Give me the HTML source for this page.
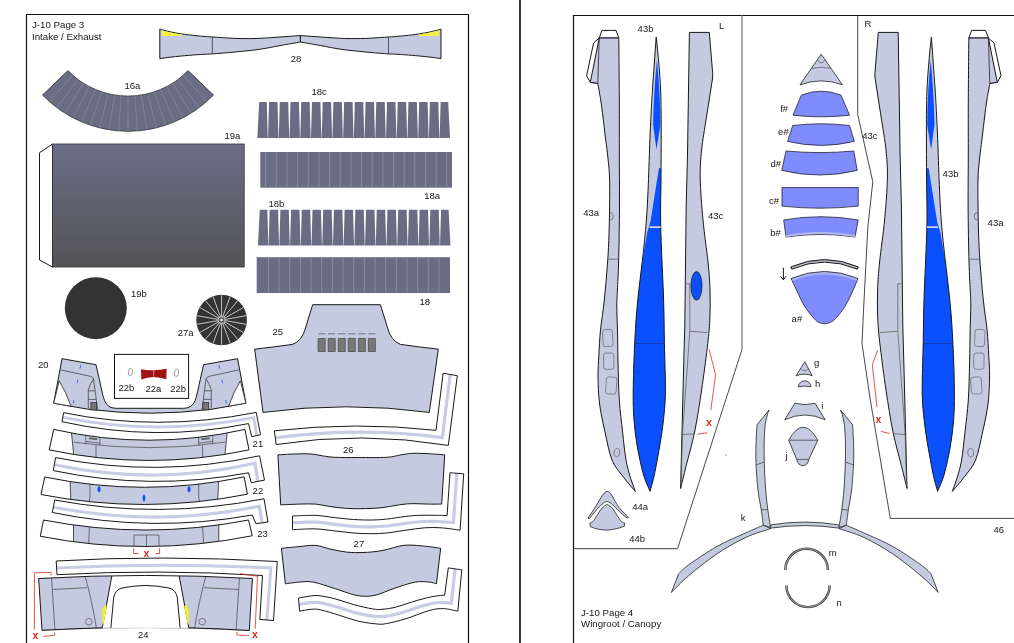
<!DOCTYPE html>
<html><head><meta charset="utf-8"><title>J-10 paper model pages 3-4</title>
<style>html,body{margin:0;padding:0;background:#fff;overflow:hidden}svg{display:block;will-change:transform}</style></head>
<body>
<svg width="1014" height="643" viewBox="0 0 1014 643" font-family="'Liberation Sans', Arial, sans-serif">
<rect width="1014" height="643" fill="#fff"/>
<path d="M26.5 650V14.5H468.5V650" fill="none" stroke="#111" stroke-width="1.2"/>
<path d="M520 0V643" stroke="#222" stroke-width="1.8"/>
<path d="M573.5 650V15.5H1020" fill="none" stroke="#111" stroke-width="1.2"/>
<text x="32" y="28" font-size="9.7" fill="#161616" >J-10 Page 3</text>
<text x="32" y="40.2" font-size="9.7" fill="#161616" >Intake / Exhaust</text>
<g><path d="M159.8 29.1C161.5 29.6 166.4 31.0 170.0 31.8C173.6 32.6 177.2 33.2 181.5 33.9C185.8 34.5 190.9 35.2 196.0 35.7C201.1 36.2 209.6 36.8 212.3 37.0L212.3 37.0C216.1 37.2 227.9 38.1 235.0 38.4C242.1 38.6 247.5 38.7 255.0 38.5C262.5 38.3 272.4 37.5 280.0 37.0C287.6 36.5 297.0 35.8 300.4 35.5L300.4 42.0C297.0 42.6 286.7 44.4 280.0 45.6C273.3 46.8 267.9 48.1 260.4 49.2C252.9 50.3 243.0 51.2 235.0 52.0C227.0 52.8 216.1 53.6 212.3 53.9L212.3 53.9C209.6 54.0 201.1 54.4 196.0 54.8C190.9 55.1 185.8 55.6 181.5 56.0C177.2 56.4 173.6 56.8 170.0 57.2C166.4 57.6 161.5 58.4 159.8 58.6Z" fill="#c4cae0" stroke="#181818" stroke-width="1"/><path d="M212.3 37V53.9" stroke="#333" stroke-width="0.8"/><path d="M161.2 30.3 Q172 33 182.4 34.6 L180.6 35.9 L162 35.9Z" fill="#f5f046"/></g><g transform="translate(600.8,0) scale(-1,1)"><path d="M159.8 29.1C161.5 29.6 166.4 31.0 170.0 31.8C173.6 32.6 177.2 33.2 181.5 33.9C185.8 34.5 190.9 35.2 196.0 35.7C201.1 36.2 209.6 36.8 212.3 37.0L212.3 37.0C216.1 37.2 227.9 38.1 235.0 38.4C242.1 38.6 247.5 38.7 255.0 38.5C262.5 38.3 272.4 37.5 280.0 37.0C287.6 36.5 297.0 35.8 300.4 35.5L300.4 42.0C297.0 42.6 286.7 44.4 280.0 45.6C273.3 46.8 267.9 48.1 260.4 49.2C252.9 50.3 243.0 51.2 235.0 52.0C227.0 52.8 216.1 53.6 212.3 53.9L212.3 53.9C209.6 54.0 201.1 54.4 196.0 54.8C190.9 55.1 185.8 55.6 181.5 56.0C177.2 56.4 173.6 56.8 170.0 57.2C166.4 57.6 161.5 58.4 159.8 58.6Z" fill="#c4cae0" stroke="#181818" stroke-width="1"/><path d="M212.3 37V53.9" stroke="#333" stroke-width="0.8"/><path d="M161.2 30.3 Q172 33 182.4 34.6 L180.6 35.9 L162 35.9Z" fill="#f5f046"/></g>
<text x="290.7" y="62" font-size="9.5" fill="#161616" >28</text>
<path d="M67.9 70.6 A83.6 83.6 0 0 0 188.1 70.6 L213.5 95.0 A118.8 118.8 0 0 1 42.5 95.0Z" fill="#6a6c84" stroke="#333" stroke-width="0.8"/>
<path d="M72.7 75.2L49.4 101.6M77.9 79.4L56.8 107.6M83.5 83.2L64.7 113.0M89.3 86.6L73.0 117.8M95.3 89.5L81.6 121.9M101.6 91.8L90.5 125.2M108.1 93.7L99.7 127.9M114.6 95.0L109.0 129.8M121.3 95.8L118.5 130.9M128.0 96.1L128.0 131.3M134.7 95.8L137.5 130.9M141.4 95.0L147.0 129.8M147.9 93.7L156.3 127.9M154.4 91.8L165.5 125.2M160.7 89.5L174.4 121.9M166.7 86.6L183.0 117.8M172.5 83.2L191.3 113.0M178.1 79.4L199.2 107.6M183.3 75.2L206.6 101.6" stroke="#9093a6" stroke-width="0.55"/>
<text x="124.5" y="89" font-size="9.5" fill="#161616" >16a</text>
<defs><linearGradient id="g19" x1="0" y1="0" x2="0" y2="1"><stop offset="0" stop-color="#6b6d86"/><stop offset="1" stop-color="#545456"/></linearGradient></defs>
<path d="M52.5 144 L39.5 152.8 V260 L52.5 267Z" fill="#fff" stroke="#181818" stroke-width="1"/>
<rect x="52.5" y="144" width="191.7" height="123" fill="url(#g19)" stroke="#333" stroke-width="0.8"/>
<text x="224.5" y="138.8" font-size="9.5" fill="#161616" >19a</text>
<path d="M257.35 138L259.20 102L266.77 102L267.77 138ZM268.07 138L269.07 102L277.49 102L278.49 138ZM278.79 138L279.79 102L288.22 102L289.22 138ZM289.52 138L290.52 102L298.94 102L299.94 138ZM300.24 138L301.24 102L309.66 102L310.66 138ZM310.96 138L311.96 102L320.38 102L321.38 138ZM321.68 138L322.68 102L331.11 102L332.11 138ZM332.41 138L333.41 102L341.83 102L342.83 138ZM343.13 138L344.13 102L352.55 102L353.55 138ZM353.85 138L354.85 102L363.27 102L364.27 138ZM364.57 138L365.57 102L373.99 102L374.99 138ZM375.29 138L376.29 102L384.72 102L385.72 138ZM386.02 138L387.02 102L395.44 102L396.44 138ZM396.74 138L397.74 102L406.16 102L407.16 138ZM407.46 138L408.46 102L416.88 102L417.88 138ZM418.18 138L419.18 102L427.61 102L428.61 138ZM428.91 138L429.91 102L438.33 102L439.33 138ZM439.63 138L440.63 102L448.20 102L450.05 138Z" fill="#6a6c84"/>
<path d="M257.95 245.4L259.80 209.7L267.36 209.7L268.36 245.4ZM268.66 245.4L269.66 209.7L278.07 209.7L279.07 245.4ZM279.37 245.4L280.37 209.7L288.78 209.7L289.78 245.4ZM290.08 245.4L291.08 209.7L299.49 209.7L300.49 245.4ZM300.79 245.4L301.79 209.7L310.21 209.7L311.21 245.4ZM311.51 245.4L312.51 209.7L320.92 209.7L321.92 245.4ZM322.22 245.4L323.22 209.7L331.63 209.7L332.63 245.4ZM332.93 245.4L333.93 209.7L342.34 209.7L343.34 245.4ZM343.64 245.4L344.64 209.7L353.05 209.7L354.05 245.4ZM354.35 245.4L355.35 209.7L363.76 209.7L364.76 245.4ZM365.06 245.4L366.06 209.7L374.47 209.7L375.47 245.4ZM375.77 245.4L376.77 209.7L385.18 209.7L386.18 245.4ZM386.48 245.4L387.48 209.7L395.89 209.7L396.89 245.4ZM397.19 245.4L398.19 209.7L406.61 209.7L407.61 245.4ZM407.91 245.4L408.91 209.7L417.32 209.7L418.32 245.4ZM418.62 245.4L419.62 209.7L428.03 209.7L429.03 245.4ZM429.33 245.4L430.33 209.7L438.74 209.7L439.74 245.4ZM440.04 245.4L441.04 209.7L448.60 209.7L450.45 245.4Z" fill="#6a6c84"/>
<text x="311.5" y="95" font-size="9.5" fill="#161616" >18c</text>
<text x="268.4" y="207" font-size="9.5" fill="#161616" >18b</text>
<rect x="260.3" y="152" width="191.7" height="35.7" fill="#6a6c84"/>
<path d="M265.60 152V187.7M276.26 152V187.7M286.92 152V187.7M297.58 152V187.7M308.24 152V187.7M318.90 152V187.7M329.56 152V187.7M340.22 152V187.7M350.88 152V187.7M361.54 152V187.7M372.20 152V187.7M382.86 152V187.7M393.52 152V187.7M404.18 152V187.7M414.84 152V187.7M425.50 152V187.7M436.16 152V187.7M446.82 152V187.7" stroke="#9c9eac" stroke-width="0.6"/>
<rect x="256.7" y="257.2" width="193.3" height="35.8" fill="#6a6c84"/>
<path d="M268.40 257.2V293M279.06 257.2V293M289.72 257.2V293M300.38 257.2V293M311.04 257.2V293M321.70 257.2V293M332.36 257.2V293M343.02 257.2V293M353.68 257.2V293M364.34 257.2V293M375.00 257.2V293M385.66 257.2V293M396.32 257.2V293M406.98 257.2V293M417.64 257.2V293M428.30 257.2V293M438.96 257.2V293" stroke="#9c9eac" stroke-width="0.6"/>
<text x="424.2" y="199" font-size="9.5" fill="#161616" >18a</text>
<text x="419.5" y="305" font-size="9.5" fill="#161616" >18</text>
<circle cx="95.8" cy="308.2" r="31" fill="#333"/>
<text x="131" y="297" font-size="9.5" fill="#161616" >19b</text>
<circle cx="221.6" cy="320" r="25.3" fill="#333"/>
<path d="M221.6 323.0L221.6 344.8M220.6 322.8L213.1 343.3M219.7 322.3L205.7 339.0M219.0 321.5L200.1 332.4M218.6 320.5L197.2 324.3M218.6 319.5L197.2 315.7M219.0 318.5L200.1 307.6M219.7 317.7L205.7 301.0M220.6 317.2L213.1 296.7M221.6 317.0L221.6 295.2M222.6 317.2L230.1 296.7M223.5 317.7L237.5 301.0M224.2 318.5L243.1 307.6M224.6 319.5L246.0 315.7M224.6 320.5L246.0 324.3M224.2 321.5L243.1 332.4M223.5 322.3L237.5 339.0M222.6 322.8L230.1 343.3" stroke="#d4d4d4" stroke-width="0.9"/>
<circle cx="221.6" cy="320" r="3.6" fill="#555" stroke="#d4d4d4" stroke-width="0.9"/><circle cx="221.6" cy="320" r="1.4" fill="#ddd"/>
<text x="177.7" y="336" font-size="9.5" fill="#161616" >27a</text>
<text x="38" y="367.5" font-size="9.5" fill="#161616" >20</text>
<path d="M62 358.7 L96 364.7 L99.9 382 Q102.5 395 104.5 400.5 Q107.5 408.3 116 408.3 L183.6 408.3 Q192.1 408.3 195.1 400.5 Q197.1 395 199.7 382 L203.6 364.7 L237.6 358.7 L245.9 403.2 L211.9 409.2 Q180 413.2 149.8 413.2 Q119.6 413.2 87.7 409.2 L53.7 403.2Z" fill="#c4cae0" stroke="#181818" stroke-width="1"/>
<g><path d="M53.7 403.2 L59.2 380.8 Q66 392 71 406.2Z" fill="#fff" stroke="#222" stroke-width="0.8"/><path d="M60.8 369.9 L90.3 376.3 Q93 377 93.5 378.8 L97.6 409.5 M93.5 378.8 Q90 384 88.3 389.7 V408.5 M88.3 390.8H95 M88.3 399.4H96.2" fill="none" stroke="#333" stroke-width="0.7"/><rect x="90.9" y="402.6" width="5.8" height="7.4" fill="#777" stroke="#222" stroke-width="0.7"/><path d="M80.8 365L80 368.5M77.8 379.7L77 383.2M74 400.2L73.2 403.7" stroke="#3355ee" stroke-width="0.9"/></g><g transform="translate(299.6,0) scale(-1,1)"><path d="M53.7 403.2 L59.2 380.8 Q66 392 71 406.2Z" fill="#fff" stroke="#222" stroke-width="0.8"/><path d="M60.8 369.9 L90.3 376.3 Q93 377 93.5 378.8 L97.6 409.5 M93.5 378.8 Q90 384 88.3 389.7 V408.5 M88.3 390.8H95 M88.3 399.4H96.2" fill="none" stroke="#333" stroke-width="0.7"/><rect x="90.9" y="402.6" width="5.8" height="7.4" fill="#777" stroke="#222" stroke-width="0.7"/><path d="M80.8 365L80 368.5M77.8 379.7L77 383.2M74 400.2L73.2 403.7" stroke="#3355ee" stroke-width="0.9"/></g>
<rect x="114.5" y="354.4" width="74.1" height="44" fill="#fff" stroke="#111" stroke-width="1"/>
<path d="M141 369.2 Q147 370.4 153.7 370.2 Q160 370.2 166.6 368.8 L166.4 379.3 Q160 377.2 153.7 377 Q147 377.4 141.3 379.4Z" fill="#a01210"/>
<path d="M153.7 370V377.2" stroke="#ddd" stroke-width="0.6"/>
<ellipse cx="130.4" cy="372.1" rx="2.1" ry="3.8" fill="none" stroke="#8a8f9e" stroke-width="0.8" transform="rotate(8 130.4 372.1)"/><ellipse cx="176.5" cy="372.7" rx="2.1" ry="3.8" fill="none" stroke="#8a8f9e" stroke-width="0.8" transform="rotate(8 176.5 372.7)"/>
<text x="118.5" y="391" font-size="9.5" fill="#161616" >22b</text>
<text x="145.5" y="391.5" font-size="9.5" fill="#161616" >22a</text>
<text x="170.2" y="391.5" font-size="9.5" fill="#161616" >22b</text>
<path d="M63.6 412.7 Q158 432 256.2 412.4 L260.5 434.7 L251.7 436.7 L248.5 423.6 Q155 442.5 62 421.7Z" fill="#fff"/>
<path d="M62.8 417.4 Q158 436.4 253.6 417.6 L256.9 435.7" fill="none" stroke="#c9cce5" stroke-width="3.0"/>
<path d="M63.6 412.7 Q158 432 256.2 412.4 L260.5 434.7 L251.7 436.7 L248.5 423.6 Q155 442.5 62 421.7Z" fill="none" stroke="#181818" stroke-width="1"/>
<clipPath id="cb1"><path d="M53.7 429.4 Q149.3 451 244.9 429.4 L249 449.9 Q149.3 471 49.2 449.9Z"/></clipPath>
<path d="M53.7 429.4 Q149.3 451 244.9 429.4 L249 449.9 Q149.3 471 49.2 449.9Z" fill="#fff"/>
<g clip-path="url(#cb1)"><path d="M70.6 424.4 Q73.6 450.2 75.2 476 L223.4 476 Q225 450.2 228 424.4Z" fill="#c4cae0" stroke="#222" stroke-width="0.8"/><path d="M73.6 442.2 Q149.3 453.2 225 442.2 M96 445.4V459 M202.6 445.4V459 M85.8 435V444.3 M99.9 436V445.6 M212.8 435V444.3 M198.7 436V445.6 M85.8 441.4L99.9 443.2 M212.8 441.4L198.7 443.2" fill="none" stroke="#444" stroke-width="0.7"/><path d="M89 437.2L97.3 438.3V440.2L89 439.2Z M209.6 437.2L201.3 438.3V440.2L209.6 439.2Z" fill="#666"/></g>
<path d="M53.7 429.4 Q149.3 451 244.9 429.4 L249 449.9 Q149.3 471 49.2 449.9Z" fill="none" stroke="#181818" stroke-width="1"/>
<text x="252.6" y="446.7" font-size="9.5" fill="#161616" >21</text>
<path d="M55.6 457.6 Q157 478 259.6 455.8 L264.5 480.1 L251.3 482.7 L248.5 472.8 Q151 491 53.3 470.6Z" fill="#fff"/>
<path d="M54.3 464.8 Q156 486 255 463.3 L257.8 481.4" fill="none" stroke="#c9cce5" stroke-width="3.2"/>
<path d="M55.6 457.6 Q157 478 259.6 455.8 L264.5 480.1 L251.3 482.7 L248.5 472.8 Q151 491 53.3 470.6Z" fill="none" stroke="#181818" stroke-width="1"/>
<clipPath id="cb2"><path d="M44.75 477 Q144.5 497.6 244.2 476.9 L247.4 494.2 Q144.5 514.6 41 494.5Z"/></clipPath>
<path d="M44.75 477 Q144.5 497.6 244.2 476.9 L247.4 494.2 Q144.5 514.6 41 494.5Z" fill="#fff"/>
<g clip-path="url(#cb2)"><path d="M69.8 471.9 Q70.6 495.75 71.6 519.6 L217 519.6 Q218 495.75 218.9 471.9Z" fill="#c4cae0" stroke="#222" stroke-width="0.8"/><path d="M90 482V497 L88.4 506 M198.7 482V497L200.3 506" fill="none" stroke="#444" stroke-width="0.7"/><ellipse cx="99" cy="489.3" rx="1.5" ry="3" fill="#0a50fe"/><ellipse cx="144" cy="498" rx="1.3" ry="3.6" fill="#0a50fe"/><ellipse cx="189" cy="489.3" rx="1.5" ry="3" fill="#0a50fe"/></g>
<path d="M44.75 477 Q144.5 497.6 244.2 476.9 L247.4 494.2 Q144.5 514.6 41 494.5Z" fill="none" stroke="#181818" stroke-width="1"/>
<text x="252.6" y="494" font-size="9.5" fill="#161616" >22</text>
<path d="M54.75 500 Q159 519.5 264 498.75 L268 522 L256 523.75 L252.25 515 Q152 533 52.25 512.5Z" fill="#fff"/>
<path d="M53.5 507.3 Q158 527.3 259.3 506.2 L262 522.8" fill="none" stroke="#c9cce5" stroke-width="3.2"/>
<path d="M54.75 500 Q159 519.5 264 498.75 L268 522 L256 523.75 L252.25 515 Q152 533 52.25 512.5Z" fill="none" stroke="#181818" stroke-width="1"/>
<clipPath id="cb3"><path d="M43.5 520 Q146 540 248.5 520 L252.25 535.75 Q146 557 40.25 536.25Z"/></clipPath>
<path d="M43.5 520 Q146 540 248.5 520 L252.25 535.75 Q146 557 40.25 536.25Z" fill="#fff"/>
<g clip-path="url(#cb3)"><path d="M73.5 515 Q73.5 538.5 73.5 562 L218.8 562 Q218.8 538.5 218.8 515Z" fill="#c4cae0" stroke="#222" stroke-width="0.8"/><path d="M89.75 520L88.5 550 M202.25 520L204 550 M134 535H159V548M134 535V548M146.5 535V548" fill="none" stroke="#444" stroke-width="0.7"/></g>
<path d="M43.5 520 Q146 540 248.5 520 L252.25 535.75 Q146 557 40.25 536.25Z" fill="none" stroke="#181818" stroke-width="1"/>
<text x="257.2" y="536.8" font-size="9.5" fill="#161616" >23</text>
<path d="M56.2 561 Q160 554.8 277.3 561.5 L273.5 620.5 L259.8 619.4 L262.5 575.5 Q160 569 57 574.7Z" fill="#fff"/>
<path d="M56.6 567.9 Q160 562.6 270.9 568 L266.8 619.8" fill="none" stroke="#c9cce5" stroke-width="3"/>
<path d="M56.2 561 Q160 554.8 277.3 561.5 L273.5 620.5 L259.8 619.4 L262.5 575.5 Q160 569 57 574.7Z" fill="none" stroke="#181818" stroke-width="1"/>
<path d="M133.6 548.3V553.5H138.5 M159.6 548.3V553.5H155.8" fill="none" stroke="#e02818" stroke-width="0.8"/>
<text x="143.5" y="556.7" font-size="10.5" fill="#e02818" font-weight="bold">x</text>
<clipPath id="c24"><path d="M38.65 578.5 Q145.5 572.4 252.4 578.5 L249.3 630.5 Q145.5 625 42 630.3Z"/></clipPath>
<path d="M38.65 578.5 Q145.5 572.4 252.4 578.5 L249.3 630.5 Q145.5 625 42 630.3Z" fill="#fff"/>
<g clip-path="url(#c24)"><g><path d="M30 570 L111.9 570 L112 575 L102.2 627.8 L102 640 L30 640Z" fill="#c4cae0" stroke="#181818" stroke-width="1"/><path d="M51.1 570L55.2 635 M52.7 589.5L87 587.7 M84.5 574 Q92 600 97.1 632" fill="none" stroke="#444" stroke-width="0.7"/><circle cx="88.8" cy="621.7" r="3.3" fill="none" stroke="#555" stroke-width="0.7"/></g><g transform="translate(291.0,0) scale(-1,1)"><path d="M30 570 L111.9 570 L112 575 L102.2 627.8 L102 640 L30 640Z" fill="#c4cae0" stroke="#181818" stroke-width="1"/><path d="M51.1 570L55.2 635 M52.7 589.5L87 587.7 M84.5 574 Q92 600 97.1 632" fill="none" stroke="#444" stroke-width="0.7"/><circle cx="88.8" cy="621.7" r="3.3" fill="none" stroke="#555" stroke-width="0.7"/></g></g>
<path d="M42 630.3 Q145.5 625 249.3 630.5" fill="none" stroke="#999" stroke-width="0.8"/>
<path d="M102.2 627.8 Q72 628.6 42 630.3 L38.65 578.5 Q145.5 572.4 252.4 578.5 L249.3 630.5 Q219 628.6 188.8 627.8" fill="none" stroke="#181818" stroke-width="1"/>
<path d="M110.9 627.8 L113.6 598.3 Q114.8 589.6 122 588 Q133 585.8 145.5 585.4 Q158 585.8 169 588 Q176.2 589.6 177.4 598.3 L180.1 627.8" fill="#fff" stroke="#181818" stroke-width="1"/>
<g><path d="M104.6 604.3 L106.7 606 L105.4 614 L103.4 624.5 L102.4 624.5 L102 610.5Z" fill="#f4ee3a"/></g><g transform="translate(291.0,0) scale(-1,1)"><path d="M104.6 604.3 L106.7 606 L105.4 614 L103.4 624.5 L102.4 624.5 L102 610.5Z" fill="#f4ee3a"/></g>
<path d="M51.1 575.5V572.4L34.4 572.9V629.6 M43.5 636.5L54.5 635.2V632.6" fill="none" stroke="#e02818" stroke-width="0.8"/>
<path d="M240 573.7L257.5 576.2L255.2 628.8 M236.9 631.9V635L249 635.5" fill="none" stroke="#e02818" stroke-width="0.8"/>
<text x="32.5" y="638.5" font-size="10.5" fill="#e02818" font-weight="bold">x</text>
<text x="252" y="638" font-size="10.5" fill="#e02818" font-weight="bold">x</text>
<text x="138" y="637.5" font-size="9.5" fill="#161616" >24</text>
<path d="M312.7 304.7 H380.4 L387.6 328 Q391 340.8 400.5 344.4 Q419 347 438.3 349.2 L429.3 412.4 Q388 406.8 346.5 406.8 Q305 406.8 263 412.4 L254.7 349.2 Q274 347 292.6 344.4 Q302.1 340.8 305.5 328Z" fill="#c4cae0" stroke="#181818" stroke-width="1"/>
<path d="M318.1 338.5h7.1v13h-7.1zM328.1 338.5h7.1v13h-7.1zM338.2 338.5h7.1v13h-7.1zM348.2 338.5h7.1v13h-7.1zM358.3 338.5h7.1v13h-7.1zM368.3 338.5h7.1v13h-7.1z" fill="#787878" stroke="#444" stroke-width="0.7"/><path d="M318.1 333.8h7.1M328.1 333.8h7.1M338.2 333.8h7.1M348.2 333.8h7.1M358.3 333.8h7.1M368.3 333.8h7.1" stroke="#8c8ea4" stroke-width="1.4"/>
<text x="272.4" y="335" font-size="9.5" fill="#161616" >25</text>
<path d="M274.3 430.8 Q356 421.5 436 430.3 L443.1 373.3 L457.3 375.7 L448.3 445.4 Q362 431 276.2 444.5Z" fill="#fff"/>
<path d="M275.2 437.8 Q359 426.5 442.3 437.6 L450.2 374.5" fill="none" stroke="#c9cce5" stroke-width="3.2"/>
<path d="M274.3 430.8 Q356 421.5 436 430.3 L443.1 373.3 L457.3 375.7 L448.3 445.4 Q362 431 276.2 444.5Z" fill="none" stroke="#181818" stroke-width="1"/>
<path d="M277.9 454.9C280.6 454.8 288.9 454.1 294.4 454.0C300.0 453.8 306.3 453.6 311.0 454.0C315.7 454.3 318.9 455.3 322.8 455.9C326.8 456.4 328.8 457.0 334.7 457.3C340.6 457.6 349.7 457.5 358.3 457.5C367.0 457.5 379.6 457.7 386.7 457.3C393.8 456.8 396.6 455.6 400.9 454.9C405.3 454.2 408.0 453.5 412.8 453.3C417.5 453.1 424.0 453.5 429.3 453.7C434.7 454.0 442.2 454.7 444.7 454.9L441.7 504.1C439.6 504.1 434.6 504.2 429.3 504.1C424.1 504.1 415.9 503.5 410.4 503.7C404.9 503.9 400.9 504.7 396.2 505.3C391.5 506.0 387.1 507.1 382.0 507.7C376.9 508.2 371.4 508.5 365.4 508.6C359.5 508.8 352.4 508.8 346.5 508.4C340.6 508.0 335.1 507.2 329.9 506.5C324.8 505.8 320.9 504.5 315.7 504.1C310.6 503.7 305.0 504.0 299.2 504.1C293.3 504.3 283.8 504.7 280.7 504.9Z" fill="#c4cae0" stroke="#181818" stroke-width="1"/>
<text x="343" y="452.5" font-size="9.5" fill="#161616" >26</text>
<path d="M292.5 516.0C294.8 515.9 302.0 515.6 306.3 515.5C310.5 515.4 313.4 515.1 318.1 515.5C322.8 515.9 328.8 517.0 334.7 517.6C340.6 518.3 347.3 519.1 353.6 519.5C359.9 519.9 367.0 520.1 372.5 520.0C378.1 519.9 381.2 519.6 386.7 519.1C392.3 518.5 400.2 517.1 405.7 516.4C411.2 515.8 415.1 515.5 419.9 515.3C424.6 515.1 429.5 515.2 434.1 515.3C438.6 515.3 444.9 515.5 447.1 515.5L450.0 472.7C452.3 472.9 461.4 473.6 463.7 473.8L460.1 530.2C457.0 529.8 447.1 528.2 441.2 527.8C435.3 527.4 430.5 527.4 424.6 527.8C418.7 528.2 412.0 529.3 405.7 530.2C399.4 531.0 392.7 532.4 386.7 533.0C380.8 533.6 375.7 533.7 370.2 533.7C364.7 533.7 359.5 533.5 353.6 533.0C347.7 532.5 340.6 531.6 334.7 530.9C328.8 530.2 322.8 529.3 318.1 529.0C313.4 528.7 310.5 528.9 306.3 529.0C302.0 529.1 294.8 529.6 292.5 529.7Z" fill="#fff"/>
<path d="M292.5 522.8C294.8 522.7 302.0 522.3 306.3 522.2C310.5 522.1 313.4 521.9 318.1 522.2C322.8 522.6 328.8 523.6 334.7 524.3C340.6 524.9 347.5 525.8 353.6 526.3C359.7 526.7 365.8 526.9 371.4 526.9C376.9 526.8 381.0 526.6 386.7 526.0C392.5 525.4 399.8 524.1 405.7 523.3C411.6 522.6 416.9 521.8 422.2 521.5C427.6 521.2 432.4 521.4 437.6 521.5C442.8 521.7 450.8 522.3 453.4 522.5L456.9 473.2" fill="none" stroke="#c9cce5" stroke-width="3.2"/>
<path d="M292.5 516.0C294.8 515.9 302.0 515.6 306.3 515.5C310.5 515.4 313.4 515.1 318.1 515.5C322.8 515.9 328.8 517.0 334.7 517.6C340.6 518.3 347.3 519.1 353.6 519.5C359.9 519.9 367.0 520.1 372.5 520.0C378.1 519.9 381.2 519.6 386.7 519.1C392.3 518.5 400.2 517.1 405.7 516.4C411.2 515.8 415.1 515.5 419.9 515.3C424.6 515.1 429.5 515.2 434.1 515.3C438.6 515.3 444.9 515.5 447.1 515.5L450.0 472.7C452.3 472.9 461.4 473.6 463.7 473.8L460.1 530.2C457.0 529.8 447.1 528.2 441.2 527.8C435.3 527.4 430.5 527.4 424.6 527.8C418.7 528.2 412.0 529.3 405.7 530.2C399.4 531.0 392.7 532.4 386.7 533.0C380.8 533.6 375.7 533.7 370.2 533.7C364.7 533.7 359.5 533.5 353.6 533.0C347.7 532.5 340.6 531.6 334.7 530.9C328.8 530.2 322.8 529.3 318.1 529.0C313.4 528.7 310.5 528.9 306.3 529.0C302.0 529.1 294.8 529.6 292.5 529.7Z" fill="none" stroke="#181818" stroke-width="1"/>
<path d="M281.4 548.3C284.4 548.0 293.5 547.1 299.2 546.6C304.9 546.1 310.6 545.0 315.7 545.4C320.9 545.8 324.8 547.9 329.9 549.0C335.1 550.1 341.0 551.5 346.5 552.1C352.0 552.7 357.2 552.8 363.1 552.5C369.0 552.3 375.3 551.8 382.0 550.6C388.7 549.5 396.6 546.2 403.3 545.4C410.0 544.6 416.0 545.4 422.2 545.9C428.5 546.4 437.6 547.9 440.7 548.3L436.4 583.8C435.3 583.5 432.9 582.4 429.3 582.1C425.8 581.8 421.1 581.1 415.1 582.1C409.2 583.2 400.2 586.4 393.8 588.5C387.5 590.6 382.0 593.4 377.3 594.7C372.5 596.0 369.4 596.3 365.4 596.3C361.5 596.3 358.7 596.0 353.6 594.7C348.5 593.4 341.4 590.6 334.7 588.5C328.0 586.4 319.3 583.2 313.4 582.1C307.5 581.1 303.8 581.8 299.2 582.1C294.5 582.4 287.7 583.5 285.4 583.8Z" fill="#c4cae0" stroke="#181818" stroke-width="1"/>
<text x="353.6" y="546.6" font-size="9.5" fill="#161616" >27</text>
<path d="M298.5 598.0C300.2 597.7 305.4 596.7 308.6 596.3C311.9 595.9 313.8 595.2 318.1 595.6C322.4 596.0 328.8 597.2 334.7 598.7C340.6 600.2 347.3 602.9 353.6 604.6C359.9 606.3 367.8 608.1 372.5 608.9C377.3 609.7 378.1 609.7 382.0 609.3C386.0 609.0 390.3 608.5 396.2 607.0C402.1 605.5 411.2 602.1 417.5 600.3C423.8 598.6 429.5 597.2 434.1 596.3C438.6 595.5 443.0 595.3 444.7 595.1L448.3 567.9C450.6 568.2 459.6 569.5 461.8 569.8L457.8 611.2C455.4 610.8 448.3 608.8 443.6 608.6C438.8 608.5 435.7 608.8 429.3 610.5C423.0 612.2 412.8 616.6 405.7 618.8C398.6 621.0 391.5 622.7 386.7 623.5C382.0 624.4 382.0 624.4 377.3 624.0C372.5 623.6 364.7 622.6 358.3 621.2C352.0 619.7 345.7 617.2 339.4 615.3C333.1 613.4 325.2 610.8 320.5 609.8C315.7 608.8 314.5 609.1 311.0 609.3C307.5 609.6 301.5 610.9 299.6 611.2Z" fill="#fff"/>
<path d="M299.2 604.6C300.9 604.3 306.5 603.0 309.8 602.7C313.2 602.4 314.8 602.0 319.3 602.7C323.8 603.4 330.9 605.3 337.0 607.0C343.2 608.7 349.7 611.3 356.0 612.9C362.3 614.5 370.2 615.9 374.9 616.4C379.6 617.0 380.0 617.0 384.4 616.4C388.7 615.9 394.4 614.7 400.9 612.9C407.5 611.1 417.1 607.3 423.4 605.6C429.7 603.8 434.2 602.9 438.8 602.5C443.5 602.1 449.3 603.1 451.4 603.2L455.1 568.9" fill="none" stroke="#c9cce5" stroke-width="3.2"/>
<path d="M298.5 598.0C300.2 597.7 305.4 596.7 308.6 596.3C311.9 595.9 313.8 595.2 318.1 595.6C322.4 596.0 328.8 597.2 334.7 598.7C340.6 600.2 347.3 602.9 353.6 604.6C359.9 606.3 367.8 608.1 372.5 608.9C377.3 609.7 378.1 609.7 382.0 609.3C386.0 609.0 390.3 608.5 396.2 607.0C402.1 605.5 411.2 602.1 417.5 600.3C423.8 598.6 429.5 597.2 434.1 596.3C438.6 595.5 443.0 595.3 444.7 595.1L448.3 567.9C450.6 568.2 459.6 569.5 461.8 569.8L457.8 611.2C455.4 610.8 448.3 608.8 443.6 608.6C438.8 608.5 435.7 608.8 429.3 610.5C423.0 612.2 412.8 616.6 405.7 618.8C398.6 621.0 391.5 622.7 386.7 623.5C382.0 624.4 382.0 624.4 377.3 624.0C372.5 623.6 364.7 622.6 358.3 621.2C352.0 619.7 345.7 617.2 339.4 615.3C333.1 613.4 325.2 610.8 320.5 609.8C315.7 608.8 314.5 609.1 311.0 609.3C307.5 609.6 301.5 610.9 299.6 611.2Z" fill="none" stroke="#181818" stroke-width="1"/>
<path d="M742 15.5V349.5" stroke="#858585" stroke-width="1.4"/><path d="M742 349.5L677.6 548.6" stroke="#333" stroke-width="0.9"/><path d="M677.6 548.6H573.5" stroke="#666" stroke-width="1.1"/>
<path d="M857.7 15.5V114.4L872.8 181.8L867.8 227.3L863.5 310.8L862 343.6L870.4 400.5L890.3 518.4H1020" fill="none" stroke="#333" stroke-width="0.9"/>
<g id="Lgrp"><path d="M602 30.4H616L618.8 38H599.2Z" fill="#fff" stroke="#181818" stroke-width="1"/><path d="M599.2 38L593.6 43L586.6 75.8L590.3 82.3L597.8 83.4Z" fill="#fff" stroke="#181818" stroke-width="1"/><path d="M599.2 38L618.8 38C618.9 48.3 619.2 81.3 619.3 100.0C619.4 118.7 619.3 132.3 619.3 150.0C619.3 167.7 619.6 187.3 619.5 206.0C619.4 224.7 619.0 248.0 618.6 262.0C618.2 276.0 617.7 282.8 617.4 290.0C617.1 297.2 616.8 298.2 616.8 305.0C616.8 311.8 617.3 321.5 617.5 331.0C617.7 340.5 617.7 350.5 618.0 362.0C618.3 373.5 618.5 388.3 619.3 400.0C620.1 411.7 621.5 422.0 622.6 432.0C623.7 442.0 624.7 452.5 626.0 460.0C627.3 467.5 628.6 471.6 630.2 476.8C631.8 482.1 634.5 489.1 635.4 491.5C633.4 489.1 627.1 482.1 623.2 476.8C619.3 471.6 615.0 467.5 612.0 460.0C609.0 452.5 607.1 441.3 605.0 432.0C602.9 422.7 600.8 413.3 599.6 404.0C598.4 394.7 598.1 384.2 598.0 376.0C597.9 367.8 598.5 362.5 598.9 355.0C599.3 347.5 599.5 340.2 600.4 331.0C601.3 321.8 603.1 311.5 604.3 300.0C605.5 288.5 606.8 273.0 607.6 262.0C608.4 251.0 608.7 243.3 609.0 234.0C609.3 224.7 609.5 215.7 609.6 206.0C609.7 196.3 609.9 184.8 609.5 176.0C609.1 167.2 608.1 159.7 607.4 153.0C606.7 146.3 605.9 142.0 605.2 136.0C604.5 130.0 603.8 123.2 603.0 117.0C602.2 110.8 601.4 104.3 600.5 98.7C599.6 93.1 598.2 86.0 597.8 83.4L590.3 82.3Z" fill="#c4cae0" stroke="#181818" stroke-width="1"/><path d="M599.2 38L597.8 83.4" stroke="#222" stroke-width="0.8"/><path d="M609.5 212.4A3.9 3.9 0 0 1 609.5 220.2 M607.8 259.2H618.6" fill="none" stroke="#555" stroke-width="0.7"/><rect x="602.8" y="329.5" width="10" height="17" rx="2.5" fill="none" stroke="#666" stroke-width="0.7" transform="rotate(-3 607.8 338)"/><rect x="603.6" y="353" width="10.3" height="16.3" rx="2.5" fill="none" stroke="#666" stroke-width="0.7"/><rect x="606" y="377" width="10.6" height="17" rx="2.5" fill="none" stroke="#666" stroke-width="0.7" transform="rotate(4 611 385)"/><ellipse cx="616.9" cy="452.7" rx="2.9" ry="4.2" fill="none" stroke="#666" stroke-width="0.7" transform="rotate(10 616.9 452.7)"/><clipPath id="cbl"><path d="M656.2 37C656.6 41.0 657.9 51.8 658.6 61.0C659.4 70.2 660.3 80.5 660.7 92.0C661.1 103.5 661.2 115.3 661.2 130.0C661.2 144.7 661.1 164.0 661.0 180.0C660.9 196.0 660.3 206.0 660.7 226.0C661.1 246.0 663.0 280.4 663.6 300.0C664.2 319.6 664.1 328.2 664.4 343.5C664.7 358.8 665.6 378.9 665.4 392.0C665.2 405.1 664.2 413.0 663.2 422.0C662.2 431.0 661.2 437.3 659.7 446.0C658.2 454.7 656.1 466.4 654.5 474.0C652.9 481.6 650.8 488.4 650.0 491.3C648.9 488.4 645.4 481.6 643.3 474.0C641.2 466.4 638.8 455.0 637.2 446.0C635.7 437.0 634.7 429.0 634.0 420.0C633.3 411.0 633.1 404.8 633.2 392.0C633.3 379.2 633.9 358.8 634.7 343.5C635.5 328.2 635.8 320.6 637.8 300.0C639.8 279.4 644.3 248.3 646.4 220.0C648.5 191.7 649.3 151.3 650.3 130.0C651.3 108.7 651.6 103.7 652.3 92.2C653.0 80.7 653.9 70.2 654.5 61.0C655.1 51.8 655.9 41.0 656.2 37.0Z"/></clipPath><path d="M656.2 37C656.6 41.0 657.9 51.8 658.6 61.0C659.4 70.2 660.3 80.5 660.7 92.0C661.1 103.5 661.2 115.3 661.2 130.0C661.2 144.7 661.1 164.0 661.0 180.0C660.9 196.0 660.3 206.0 660.7 226.0C661.1 246.0 663.0 280.4 663.6 300.0C664.2 319.6 664.1 328.2 664.4 343.5C664.7 358.8 665.6 378.9 665.4 392.0C665.2 405.1 664.2 413.0 663.2 422.0C662.2 431.0 661.2 437.3 659.7 446.0C658.2 454.7 656.1 466.4 654.5 474.0C652.9 481.6 650.8 488.4 650.0 491.3C648.9 488.4 645.4 481.6 643.3 474.0C641.2 466.4 638.8 455.0 637.2 446.0C635.7 437.0 634.7 429.0 634.0 420.0C633.3 411.0 633.1 404.8 633.2 392.0C633.3 379.2 633.9 358.8 634.7 343.5C635.5 328.2 635.8 320.6 637.8 300.0C639.8 279.4 644.3 248.3 646.4 220.0C648.5 191.7 649.3 151.3 650.3 130.0C651.3 108.7 651.6 103.7 652.3 92.2C653.0 80.7 653.9 70.2 654.5 61.0C655.1 51.8 655.9 41.0 656.2 37.0Z" fill="#c4cae0"/><g clip-path="url(#cbl)"><path d="M656.9 60 Q653.6 94 653.1 125 L656.5 149.5 L660.4 125 Q660.3 94 656.9 60Z" fill="#0a50fe"/><path d="M658.9 168.2 L650.4 222 L647.3 232 L639.5 277 L620 300 V500 H680 V168Z" fill="#0a50fe"/><path d="M630 343.5H670" stroke="#0e3cae" stroke-width="1"/></g><path d="M656.2 37C656.6 41.0 657.9 51.8 658.6 61.0C659.4 70.2 660.3 80.5 660.7 92.0C661.1 103.5 661.2 115.3 661.2 130.0C661.2 144.7 661.1 164.0 661.0 180.0C660.9 196.0 660.3 206.0 660.7 226.0C661.1 246.0 663.0 280.4 663.6 300.0C664.2 319.6 664.1 328.2 664.4 343.5C664.7 358.8 665.6 378.9 665.4 392.0C665.2 405.1 664.2 413.0 663.2 422.0C662.2 431.0 661.2 437.3 659.7 446.0C658.2 454.7 656.1 466.4 654.5 474.0C652.9 481.6 650.8 488.4 650.0 491.3C648.9 488.4 645.4 481.6 643.3 474.0C641.2 466.4 638.8 455.0 637.2 446.0C635.7 437.0 634.7 429.0 634.0 420.0C633.3 411.0 633.1 404.8 633.2 392.0C633.3 379.2 633.9 358.8 634.7 343.5C635.5 328.2 635.8 320.6 637.8 300.0C639.8 279.4 644.3 248.3 646.4 220.0C648.5 191.7 649.3 151.3 650.3 130.0C651.3 108.7 651.6 103.7 652.3 92.2C653.0 80.7 653.9 70.2 654.5 61.0C655.1 51.8 655.9 41.0 656.2 37.0Z" fill="none" stroke="#181818" stroke-width="1"/><rect x="649.6" y="226.2" width="11" height="1.7" fill="#e6e7f4"/><path d="M649.6 226.1H660.6" stroke="#4a5a9a" stroke-width="0.4"/><path d="M689.4 32.4H709.3L712.7 73.5L712.6 78L705.7 122C705.0 126.7 702.5 140.7 701.6 150.0C700.7 159.3 700.0 166.3 700.2 178.0C700.4 189.7 701.7 206.0 703.0 220.0C704.3 234.0 706.8 250.3 708.0 262.0C709.2 273.7 709.7 280.3 710.0 290.0C710.3 299.7 710.3 310.3 709.8 320.0C709.3 329.7 708.6 336.3 707.2 348.0C705.8 359.7 703.7 376.0 701.6 390.0C699.5 404.0 697.2 419.4 694.6 432.0C692.0 444.6 688.5 456.2 686.2 465.6C683.9 475.0 681.5 484.7 680.6 488.5L682 432L683.4 376L684.8 325L686.2 206L687.6 150L688 122L689.4 32.4Z" fill="#c4cae0" stroke="#181818" stroke-width="1"/><path d="M686.2 283.8H689.8V331.2L707.4 332.6 M689.8 331.2Q686 385 682.4 434.5L694.2 433.8 M682.4 434.5L681 486" fill="none" stroke="#555" stroke-width="0.7"/></g>
<g transform="translate(1587.6,0) scale(-1,1)"><path d="M602 30.4H616L618.8 38H599.2Z" fill="#fff" stroke="#181818" stroke-width="1"/><path d="M599.2 38L593.6 43L586.6 75.8L590.3 82.3L597.8 83.4Z" fill="#fff" stroke="#181818" stroke-width="1"/><path d="M599.2 38L618.8 38C618.9 48.3 619.2 81.3 619.3 100.0C619.4 118.7 619.3 132.3 619.3 150.0C619.3 167.7 619.6 187.3 619.5 206.0C619.4 224.7 619.0 248.0 618.6 262.0C618.2 276.0 617.7 282.8 617.4 290.0C617.1 297.2 616.8 298.2 616.8 305.0C616.8 311.8 617.3 321.5 617.5 331.0C617.7 340.5 617.7 350.5 618.0 362.0C618.3 373.5 618.5 388.3 619.3 400.0C620.1 411.7 621.5 422.0 622.6 432.0C623.7 442.0 624.7 452.5 626.0 460.0C627.3 467.5 628.6 471.6 630.2 476.8C631.8 482.1 634.5 489.1 635.4 491.5C633.4 489.1 627.1 482.1 623.2 476.8C619.3 471.6 615.0 467.5 612.0 460.0C609.0 452.5 607.1 441.3 605.0 432.0C602.9 422.7 600.8 413.3 599.6 404.0C598.4 394.7 598.1 384.2 598.0 376.0C597.9 367.8 598.5 362.5 598.9 355.0C599.3 347.5 599.5 340.2 600.4 331.0C601.3 321.8 603.1 311.5 604.3 300.0C605.5 288.5 606.8 273.0 607.6 262.0C608.4 251.0 608.7 243.3 609.0 234.0C609.3 224.7 609.5 215.7 609.6 206.0C609.7 196.3 609.9 184.8 609.5 176.0C609.1 167.2 608.1 159.7 607.4 153.0C606.7 146.3 605.9 142.0 605.2 136.0C604.5 130.0 603.8 123.2 603.0 117.0C602.2 110.8 601.4 104.3 600.5 98.7C599.6 93.1 598.2 86.0 597.8 83.4L590.3 82.3Z" fill="#c4cae0" stroke="#181818" stroke-width="1"/><path d="M599.2 38L597.8 83.4" stroke="#222" stroke-width="0.8"/><path d="M609.5 212.4A3.9 3.9 0 0 1 609.5 220.2 M607.8 259.2H618.6" fill="none" stroke="#555" stroke-width="0.7"/><rect x="602.8" y="329.5" width="10" height="17" rx="2.5" fill="none" stroke="#666" stroke-width="0.7" transform="rotate(-3 607.8 338)"/><rect x="603.6" y="353" width="10.3" height="16.3" rx="2.5" fill="none" stroke="#666" stroke-width="0.7"/><rect x="606" y="377" width="10.6" height="17" rx="2.5" fill="none" stroke="#666" stroke-width="0.7" transform="rotate(4 611 385)"/><ellipse cx="616.9" cy="452.7" rx="2.9" ry="4.2" fill="none" stroke="#666" stroke-width="0.7" transform="rotate(10 616.9 452.7)"/><clipPath id="cbr"><path d="M656.2 37C656.6 41.0 657.9 51.8 658.6 61.0C659.4 70.2 660.3 80.5 660.7 92.0C661.1 103.5 661.2 115.3 661.2 130.0C661.2 144.7 661.1 164.0 661.0 180.0C660.9 196.0 660.3 206.0 660.7 226.0C661.1 246.0 663.0 280.4 663.6 300.0C664.2 319.6 664.1 328.2 664.4 343.5C664.7 358.8 665.6 378.9 665.4 392.0C665.2 405.1 664.2 413.0 663.2 422.0C662.2 431.0 661.2 437.3 659.7 446.0C658.2 454.7 656.1 466.4 654.5 474.0C652.9 481.6 650.8 488.4 650.0 491.3C648.9 488.4 645.4 481.6 643.3 474.0C641.2 466.4 638.8 455.0 637.2 446.0C635.7 437.0 634.7 429.0 634.0 420.0C633.3 411.0 633.1 404.8 633.2 392.0C633.3 379.2 633.9 358.8 634.7 343.5C635.5 328.2 635.8 320.6 637.8 300.0C639.8 279.4 644.3 248.3 646.4 220.0C648.5 191.7 649.3 151.3 650.3 130.0C651.3 108.7 651.6 103.7 652.3 92.2C653.0 80.7 653.9 70.2 654.5 61.0C655.1 51.8 655.9 41.0 656.2 37.0Z"/></clipPath><path d="M656.2 37C656.6 41.0 657.9 51.8 658.6 61.0C659.4 70.2 660.3 80.5 660.7 92.0C661.1 103.5 661.2 115.3 661.2 130.0C661.2 144.7 661.1 164.0 661.0 180.0C660.9 196.0 660.3 206.0 660.7 226.0C661.1 246.0 663.0 280.4 663.6 300.0C664.2 319.6 664.1 328.2 664.4 343.5C664.7 358.8 665.6 378.9 665.4 392.0C665.2 405.1 664.2 413.0 663.2 422.0C662.2 431.0 661.2 437.3 659.7 446.0C658.2 454.7 656.1 466.4 654.5 474.0C652.9 481.6 650.8 488.4 650.0 491.3C648.9 488.4 645.4 481.6 643.3 474.0C641.2 466.4 638.8 455.0 637.2 446.0C635.7 437.0 634.7 429.0 634.0 420.0C633.3 411.0 633.1 404.8 633.2 392.0C633.3 379.2 633.9 358.8 634.7 343.5C635.5 328.2 635.8 320.6 637.8 300.0C639.8 279.4 644.3 248.3 646.4 220.0C648.5 191.7 649.3 151.3 650.3 130.0C651.3 108.7 651.6 103.7 652.3 92.2C653.0 80.7 653.9 70.2 654.5 61.0C655.1 51.8 655.9 41.0 656.2 37.0Z" fill="#c4cae0"/><g clip-path="url(#cbr)"><path d="M656.9 60 Q653.6 94 653.1 125 L656.5 149.5 L660.4 125 Q660.3 94 656.9 60Z" fill="#0a50fe"/><path d="M658.9 168.2 L650.4 222 L647.3 232 L639.5 277 L620 300 V500 H680 V168Z" fill="#0a50fe"/><path d="M630 343.5H670" stroke="#0e3cae" stroke-width="1"/></g><path d="M656.2 37C656.6 41.0 657.9 51.8 658.6 61.0C659.4 70.2 660.3 80.5 660.7 92.0C661.1 103.5 661.2 115.3 661.2 130.0C661.2 144.7 661.1 164.0 661.0 180.0C660.9 196.0 660.3 206.0 660.7 226.0C661.1 246.0 663.0 280.4 663.6 300.0C664.2 319.6 664.1 328.2 664.4 343.5C664.7 358.8 665.6 378.9 665.4 392.0C665.2 405.1 664.2 413.0 663.2 422.0C662.2 431.0 661.2 437.3 659.7 446.0C658.2 454.7 656.1 466.4 654.5 474.0C652.9 481.6 650.8 488.4 650.0 491.3C648.9 488.4 645.4 481.6 643.3 474.0C641.2 466.4 638.8 455.0 637.2 446.0C635.7 437.0 634.7 429.0 634.0 420.0C633.3 411.0 633.1 404.8 633.2 392.0C633.3 379.2 633.9 358.8 634.7 343.5C635.5 328.2 635.8 320.6 637.8 300.0C639.8 279.4 644.3 248.3 646.4 220.0C648.5 191.7 649.3 151.3 650.3 130.0C651.3 108.7 651.6 103.7 652.3 92.2C653.0 80.7 653.9 70.2 654.5 61.0C655.1 51.8 655.9 41.0 656.2 37.0Z" fill="none" stroke="#181818" stroke-width="1"/><rect x="649.6" y="226.2" width="11" height="1.7" fill="#e6e7f4"/><path d="M649.6 226.1H660.6" stroke="#4a5a9a" stroke-width="0.4"/><path d="M689.4 32.4H709.3L712.7 73.5L712.6 78L705.7 122C705.0 126.7 702.5 140.7 701.6 150.0C700.7 159.3 700.0 166.3 700.2 178.0C700.4 189.7 701.7 206.0 703.0 220.0C704.3 234.0 706.8 250.3 708.0 262.0C709.2 273.7 709.7 280.3 710.0 290.0C710.3 299.7 710.3 310.3 709.8 320.0C709.3 329.7 708.6 336.3 707.2 348.0C705.8 359.7 703.7 376.0 701.6 390.0C699.5 404.0 697.2 419.4 694.6 432.0C692.0 444.6 688.5 456.2 686.2 465.6C683.9 475.0 681.5 484.7 680.6 488.5L682 432L683.4 376L684.8 325L686.2 206L687.6 150L688 122L689.4 32.4Z" fill="#c4cae0" stroke="#181818" stroke-width="1"/><path d="M686.2 283.8H689.8V331.2L707.4 332.6 M689.8 331.2Q686 385 682.4 434.5L694.2 433.8 M682.4 434.5L681 486" fill="none" stroke="#555" stroke-width="0.7"/></g>
<ellipse cx="696.5" cy="285.8" rx="5.5" ry="14.3" fill="#0a50fe" stroke="#123" stroke-width="0.8"/>
<path d="M588.0 518.0C589.4 515.9 594.1 509.0 596.4 505.3C598.7 501.6 600.6 498.1 602.0 496.0C603.4 493.9 603.9 493.4 604.8 492.6C605.7 491.8 606.4 491.3 607.2 491.3C608.0 491.3 609.0 491.8 609.8 492.6C610.6 493.4 610.7 493.6 612.2 496.0C613.7 498.4 616.1 503.6 618.8 507.2C621.5 510.8 626.9 515.7 628.5 517.4L627.2 518.0C626.1 517.1 622.9 514.9 620.6 512.8C618.3 510.7 615.4 507.2 613.2 505.3C611.0 503.4 609.1 501.8 607.2 501.6C605.3 501.5 603.8 503.0 602.0 504.4C600.2 505.8 598.5 507.6 596.4 510.0C594.3 512.4 590.5 517.2 589.3 518.6Z" fill="#c4cae0" stroke="#222" stroke-width="0.8"/>
<path d="M607.2 504.4C606.3 505.0 603.8 506.1 602.0 508.1C600.2 510.1 597.9 514.2 596.4 516.5C594.9 518.8 593.8 520.6 592.7 521.7C591.6 522.8 590.4 522.8 589.9 523.0L590.4 526.8C591.7 527.2 595.4 528.7 598.3 529.2C601.2 529.8 604.5 530.2 607.6 530.1C610.7 530.0 614.1 529.2 616.9 528.6C619.7 528.0 623.1 526.6 624.4 526.2L624.7 523.0C624.2 522.8 622.8 522.8 621.6 521.7C620.5 520.6 619.4 518.8 617.8 516.5C616.2 514.2 614.0 510.1 612.2 508.1C610.4 506.1 608.0 505.0 607.2 504.4Z" fill="#c4cae0" stroke="#222" stroke-width="0.8"/>
<path d="M709.1 349.4L715.6 374.6L710.8 410.1 M697.4 434.2L707.2 432.8" fill="none" stroke="#e02818" stroke-width="0.8"/>
<text x="706" y="426" font-size="10.5" fill="#e02818" font-weight="bold">x</text>
<path d="M877.6 350.2L872.3 364.8L877 407.1 M881 431.4L889.5 433.5" fill="none" stroke="#e02818" stroke-width="0.8"/>
<text x="875.4" y="423" font-size="10.5" fill="#e02818" font-weight="bold">x</text>
<circle cx="726" cy="455" r="0.6" fill="#333"/>
<text x="637.6" y="31.6" font-size="9.5" fill="#161616" >43b</text>
<text x="719.1" y="28.8" font-size="9.5" fill="#161616" >L</text>
<text x="583.2" y="215.8" font-size="9.5" fill="#161616" >43a</text>
<text x="708" y="219.1" font-size="9.5" fill="#161616" >43c</text>
<text x="864.4" y="26.7" font-size="9.5" fill="#161616" >R</text>
<text x="862.2" y="138.8" font-size="9.5" fill="#161616" >43c</text>
<text x="942.6" y="177" font-size="9.5" fill="#161616" >43b</text>
<text x="987.6" y="226.2" font-size="9.5" fill="#161616" >43a</text>
<text x="993.4" y="533" font-size="9.5" fill="#161616" >46</text>
<text x="632.3" y="509.8" font-size="9.5" fill="#161616" >44a</text>
<text x="629.2" y="542" font-size="9.5" fill="#161616" >44b</text>
<text x="581" y="616.2" font-size="9.7" fill="#161616" >J-10 Page 4</text>
<text x="581" y="627.2" font-size="9.7" fill="#161616" >Wingroot / Canopy</text>
<text x="740.7" y="521" font-size="9.5" fill="#161616" >k</text>
<path d="M821.2 54.2 L842.4 84.8 Q821.2 77 800 84.8Z" fill="#c4cae0" stroke="#222" stroke-width="0.8"/>
<path d="M811.6 68.4 Q821.2 66 830.8 68.4 M817.4 59.7 Q821.2 66.5 825 59.7" fill="none" stroke="#555" stroke-width="0.7"/>
<path d="M801.4 95.1 Q821.2 87.3 841 95.1 L849.5 115.2 Q821.2 118.4 793 115.2Z" fill="#808cfe" stroke="#223" stroke-width="0.8"/>
<path d="M792.7 125.5 Q821.1 122.1 849.5 125.5 L854.3 141.4 Q821.1 149.4 787.6 141.4Z" fill="#808cfe" stroke="#223" stroke-width="0.8"/>
<path d="M786 151 Q819.9 154.2 853.8 151 L857.2 170.4 Q819.9 179.6 781.8 170.4Z" fill="#808cfe" stroke="#223" stroke-width="0.8"/>
<path d="M782 187.6 Q820.1 187.6 858.2 187.6 L858.2 206.1 Q820.1 210.3 782 206.1Z" fill="#808cfe" stroke="#223" stroke-width="0.8"/>
<path d="M783.7 219.9 Q820.95 213.5 858.2 219.9 L855 237 Q820.95 231.8 786 237Z" fill="#808cfe" stroke="#223" stroke-width="0.8"/>
<path d="M785.7 235.9 Q820.5 230.3 855.3 235.9" fill="none" stroke="#b4baea" stroke-width="2"/>
<text x="780.2" y="111.8" font-size="9.5" fill="#161616" >f#</text>
<text x="778.1" y="134.8" font-size="9.5" fill="#161616" >e#</text>
<text x="770.5" y="166.5" font-size="9.5" fill="#161616" >d#</text>
<text x="768.9" y="203.5" font-size="9.5" fill="#161616" >c#</text>
<text x="770.2" y="235.7" font-size="9.5" fill="#161616" >b#</text>
<path d="M790.8 266.9 Q824.5 252.3 858.2 266.9 L857.3 269.2 Q824.5 255 791.7 269.2Z" fill="#bcbccc" stroke="#111" stroke-width="1"/>
<path d="M783.4 267.7V279.6M780.6 276.2L783.4 279.8L786.2 276.2" fill="none" stroke="#181818" stroke-width="1"/>
<clipPath id="ca"><path d="M791.1 278.5 Q824.5 264.4 857.9 278.5C857.1 280.5 855.1 285.8 853.0 290.4C850.9 295.0 848.1 301.3 845.2 306.0C842.3 310.7 838.0 315.9 835.5 318.6C833.0 321.3 832.3 321.5 830.5 322.4C828.7 323.3 825.7 323.6 824.7 323.9C823.8 323.6 820.8 323.3 819.0 322.4C817.2 321.5 816.5 321.3 814.1 318.6C811.7 315.9 807.3 310.7 804.4 306.0C801.5 301.3 798.9 295.0 796.7 290.4C794.5 285.8 792.0 280.5 791.1 278.5Z"/></clipPath>
<path d="M791.1 278.5 Q824.5 264.4 857.9 278.5C857.1 280.5 855.1 285.8 853.0 290.4C850.9 295.0 848.1 301.3 845.2 306.0C842.3 310.7 838.0 315.9 835.5 318.6C833.0 321.3 832.3 321.5 830.5 322.4C828.7 323.3 825.7 323.6 824.7 323.9C823.8 323.6 820.8 323.3 819.0 322.4C817.2 321.5 816.5 321.3 814.1 318.6C811.7 315.9 807.3 310.7 804.4 306.0C801.5 301.3 798.9 295.0 796.7 290.4C794.5 285.8 792.0 280.5 791.1 278.5Z" fill="#808cfe"/>
<path d="M790 280.2 Q824.5 266 859 280.2" fill="none" stroke="#aab4ee" stroke-width="3" clip-path="url(#ca)"/>
<path d="M791.1 278.5 Q824.5 264.4 857.9 278.5C857.1 280.5 855.1 285.8 853.0 290.4C850.9 295.0 848.1 301.3 845.2 306.0C842.3 310.7 838.0 315.9 835.5 318.6C833.0 321.3 832.3 321.5 830.5 322.4C828.7 323.3 825.7 323.6 824.7 323.9C823.8 323.6 820.8 323.3 819.0 322.4C817.2 321.5 816.5 321.3 814.1 318.6C811.7 315.9 807.3 310.7 804.4 306.0C801.5 301.3 798.9 295.0 796.7 290.4C794.5 285.8 792.0 280.5 791.1 278.5Z" fill="none" stroke="#223" stroke-width="0.8"/>
<text x="791.6" y="322" font-size="9.5" fill="#161616" >a#</text>
<path d="M804.8 361.8 L812.2 375.8 Q804.3 372.5 796 375.8Z" fill="#c4cae0" stroke="#222" stroke-width="0.8"/>
<path d="M800.6 368.6 Q804.6 373 808.7 368.6" fill="none" stroke="#555" stroke-width="0.7"/>
<path d="M798.2 386.9 Q799.5 381 804.7 380.8 Q809.9 381 811.2 386.9 Q804.7 385.3 798.2 386.9Z" fill="#c4cae0" stroke="#222" stroke-width="0.8"/>
<path d="M794.8 403.3 Q805 406 815.1 403.3 L825.2 419.8 Q805 410.2 784.7 419.8Z" fill="#c4cae0" stroke="#222" stroke-width="0.8"/>
<path d="M788.7 440.2 Q796 427.2 803.2 427.2 Q810.4 427.2 817.8 440.2 L808.8 459.4 Q807.6 465.5 802.9 465.7 Q798 465.5 796.7 459.4Z" fill="#c4cae0" stroke="#222" stroke-width="0.8"/>
<path d="M788.7 440.2H817.8 M796.7 459.4H808.8" fill="none" stroke="#333" stroke-width="0.7"/>
<text x="814.1" y="366.3" font-size="9.5" fill="#161616" >g</text>
<text x="815.1" y="386.9" font-size="9.5" fill="#161616" >h</text>
<text x="821.2" y="408.6" font-size="9.5" fill="#161616" >i</text>
<text x="785.5" y="458.8" font-size="9.5" fill="#161616" >j</text>
<path d="M770.8 524.9 Q804.8 519.2 838.8 524.9 L839.6 528.2 Q804.8 523 770 528.2Z" fill="#c4cae0" stroke="#222" stroke-width="0.8"/>
<g><path d="M763.3 525.2C760.4 526.5 753.5 529.4 745.8 532.9C738.1 536.4 726.7 541.0 717.2 546.3C707.7 551.6 695.0 560.3 688.6 564.9C682.2 569.5 680.3 572.3 678.6 573.8L671.4 592.4C674.3 589.6 681.0 582.2 688.6 575.8C696.2 569.3 707.7 560.1 717.2 553.7C726.7 547.3 736.9 541.6 745.8 537.4C754.7 533.2 766.5 530.1 770.6 528.6Z" fill="#c4cae0" stroke="#222" stroke-width="0.8"/><path d="M769.1 410L757 424.8C756.8 428.0 756.2 437.6 756.0 444.0C755.8 450.4 755.7 455.3 756.0 463.0C756.3 470.7 757.1 482.2 758.0 490.0C758.9 497.8 760.3 503.7 761.2 509.6C762.1 515.5 762.9 522.6 763.3 525.2L770.6 527.4C770.1 524.4 768.6 515.8 767.8 509.6C767.0 503.4 766.3 497.8 765.7 490.0C765.1 482.2 764.5 471.2 764.3 463.0C764.0 454.8 764.1 447.5 764.2 441.0C764.4 434.5 765.0 426.8 765.2 424.0L767.6 413.5Z" fill="#c4cae0" stroke="#222" stroke-width="0.8"/><path d="M756.4 464.8L763.7 462.2 M761.2 510L767.8 509.4" stroke="#333" stroke-width="0.7"/></g><g transform="translate(1609.6,0) scale(-1,1)"><path d="M763.3 525.2C760.4 526.5 753.5 529.4 745.8 532.9C738.1 536.4 726.7 541.0 717.2 546.3C707.7 551.6 695.0 560.3 688.6 564.9C682.2 569.5 680.3 572.3 678.6 573.8L671.4 592.4C674.3 589.6 681.0 582.2 688.6 575.8C696.2 569.3 707.7 560.1 717.2 553.7C726.7 547.3 736.9 541.6 745.8 537.4C754.7 533.2 766.5 530.1 770.6 528.6Z" fill="#c4cae0" stroke="#222" stroke-width="0.8"/><path d="M769.1 410L757 424.8C756.8 428.0 756.2 437.6 756.0 444.0C755.8 450.4 755.7 455.3 756.0 463.0C756.3 470.7 757.1 482.2 758.0 490.0C758.9 497.8 760.3 503.7 761.2 509.6C762.1 515.5 762.9 522.6 763.3 525.2L770.6 527.4C770.1 524.4 768.6 515.8 767.8 509.6C767.0 503.4 766.3 497.8 765.7 490.0C765.1 482.2 764.5 471.2 764.3 463.0C764.0 454.8 764.1 447.5 764.2 441.0C764.4 434.5 765.0 426.8 765.2 424.0L767.6 413.5Z" fill="#c4cae0" stroke="#222" stroke-width="0.8"/><path d="M756.4 464.8L763.7 462.2 M761.2 510L767.8 509.4" stroke="#333" stroke-width="0.7"/></g>
<path d="M785.3 570 A21.3 21.3 0 0 1 827.9 570" fill="none" stroke="#333" stroke-width="2.4"/><path d="M785.3 570 A21.3 21.3 0 0 1 827.9 570" fill="none" stroke="#c8c8d4" stroke-width="0.8"/>
<path d="M786.4 585.5 A21.6 21.6 0 0 0 829.6 585.5" fill="none" stroke="#333" stroke-width="2.4"/><path d="M786.4 585.5 A21.6 21.6 0 0 0 829.6 585.5" fill="none" stroke="#c8c8d4" stroke-width="0.8"/>
<text x="828.7" y="556.4" font-size="9.5" fill="#161616" >m</text>
<text x="836.4" y="605.6" font-size="9.5" fill="#161616" >n</text>
</svg>
</body></html>
